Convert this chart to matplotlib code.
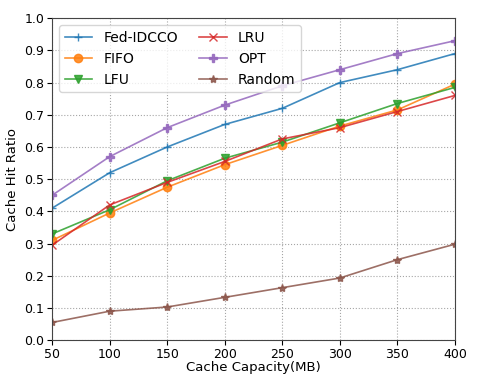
import matplotlib.pyplot as plt

# data
capacity = [50, 100, 150, 200, 250, 300, 350, 400]
fed_idcco = [0.41, 0.52, 0.60, 0.67, 0.72, 0.80, 0.84, 0.89]
fifo = [0.31, 0.395, 0.475, 0.545, 0.605, 0.665, 0.715, 0.795]
lfu = [0.33, 0.405, 0.495, 0.565, 0.615, 0.675, 0.735, 0.785]
lru = [0.295, 0.42, 0.49, 0.555, 0.625, 0.66, 0.71, 0.76]
opt = [0.45, 0.57, 0.66, 0.73, 0.79, 0.84, 0.89, 0.93]
random_ = [0.055, 0.09, 0.103, 0.133, 0.163, 0.193, 0.25, 0.298]

series = [
    ('Fed-IDCCO', fed_idcco, '+', 'C0'),
    ('FIFO', fifo, 'o', 'C1'),
    ('LFU', lfu, 'v', 'C2'),
    ('LRU', lru, 'x', 'C3'),
    ('OPT', opt, 'P', 'C4'),
    ('Random', random_, '*', 'C5'),
]

fig = plt.figure(figsize=(4.87, 3.87), dpi=100)
ax = fig.add_axes([0.107, 0.121, 0.827, 0.832])

for name, vals, mk, col in series:
    ax.plot(capacity, vals, marker=mk, color=col, label=name,
            linewidth=1.2, markersize=6, alpha=0.85)

ax.set_xlim(50, 400)
ax.set_ylim(0, 1.0)
ax.set_xticks(capacity)
ax.set_yticks([i / 10 for i in range(11)])
ax.set_xlabel('Cache Capacity(MB)', fontsize=9.5, labelpad=0)
ax.set_ylabel('Cache Hit Ratio', fontsize=9.5)
ax.tick_params(labelsize=9, pad=2)
for sp in ax.spines.values():
    sp.set_color('#444444')
ax.grid(True, linestyle=':', color='gray', alpha=0.7)
ax.legend(ncol=2, loc='upper left', fontsize=10, columnspacing=1.5)

fig.savefig('out.png', dpi=100)
